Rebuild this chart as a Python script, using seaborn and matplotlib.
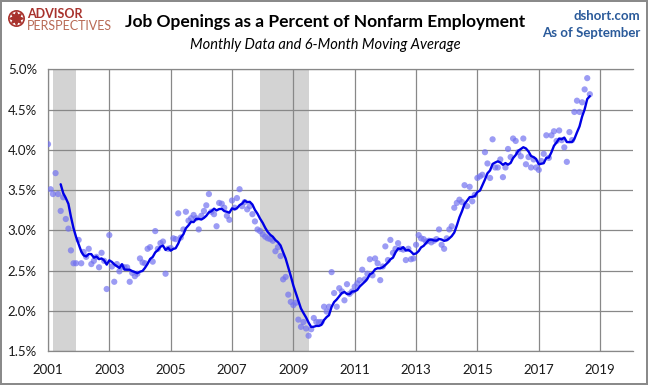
import pandas as pd
import numpy as np
import matplotlib.pyplot as plt
from matplotlib.lines import Line2D
import seaborn as sns

# job openings as % of nonfarm employment, monthly from Jan 2001 to Sep 2018
openings_pct = [
    4.07, 3.51, 3.45, 3.71, 3.45, 3.24, 3.41, 3.14, 3.02, 2.75, 2.59, 2.59,  # 2001
    2.88, 2.59, 2.73, 2.67, 2.77, 2.58, 2.62, 2.67, 2.54, 2.72, 2.62, 2.27,  # 2002
    2.94, 2.55, 2.36, 2.58, 2.49, 2.55, 2.54, 2.54, 2.36, 2.47, 2.43, 2.46,  # 2003
    2.65, 2.60, 2.59, 2.77, 2.79, 2.61, 2.99, 2.77, 2.84, 2.86, 2.46, 2.77,  # 2004
    2.78, 2.90, 2.89, 3.21, 2.91, 3.01, 3.23, 3.12, 3.15, 3.19, 3.15, 3.01,  # 2005
    3.18, 3.24, 3.31, 3.45, 3.23, 3.20, 3.05, 3.34, 3.33, 3.28, 3.18, 3.13,  # 2006
    3.37, 3.28, 3.40, 3.51, 3.30, 3.35, 3.26, 3.30, 3.20, 3.11, 3.01, 2.99,  # 2007
    2.95, 2.92, 2.90, 2.89, 2.87, 2.74, 2.79, 2.68, 2.39, 2.42, 2.20, 2.11,  # 2008
    2.07, 2.10, 1.89, 1.80, 1.86, 1.78, 1.69, 1.77, 1.91, 1.86, 1.86, 1.86,  # 2009
    2.05, 1.99, 2.05, 2.48, 2.22, 2.05, 2.28, 2.24, 2.13, 2.33, 2.21, 2.24,  # 2010
    2.30, 2.34, 2.38, 2.51, 2.39, 2.46, 2.64, 2.44, 2.65, 2.59, 2.38, 2.55,  # 2011
    2.80, 2.63, 2.88, 2.72, 2.77, 2.84, 2.77, 2.76, 2.63, 2.77, 2.64, 2.65,  # 2012
    2.82, 2.94, 2.90, 2.89, 2.86, 2.87, 2.85, 2.87, 2.89, 3.01, 2.82, 2.77,  # 2013
    2.90, 3.01, 3.05, 3.28, 3.34, 3.38, 3.35, 3.56, 3.30, 3.54, 3.36, 3.44,  # 2014
    3.65, 3.67, 3.69, 3.97, 3.83, 3.65, 4.13, 3.78, 3.78, 3.88, 3.66, 3.78,  # 2015
    4.01, 3.91, 4.14, 4.11, 3.97, 3.92, 4.14, 3.82, 3.91, 3.78, 3.88, 3.78,  # 2016
    3.75, 3.86, 3.95, 4.18, 3.90, 4.18, 4.23, 4.11, 4.24, 4.12, 4.03, 3.85,  # 2017
    4.22, 4.12, 4.47, 4.61, 4.47, 4.59, 4.75, 4.89, 4.69,                    # 2018
]
first_month = '2001-01-01'

recession_starts = ['2001-03-01', '2007-12-01']
recession_ends = ['2001-11-30', '2009-06-30']

tick_years = [2001, 2003, 2005, 2007, 2009, 2011, 2013, 2015, 2017, 2019]
ytick_vals = [1.5, 2.0, 2.5, 3.0, 3.5, 4.0, 4.5, 5.0]

df = pd.DataFrame({
    'date': pd.date_range(first_month, periods=len(openings_pct), freq='MS'),
    'pct': openings_pct,
})
df['ma6'] = df['pct'].rolling(6).mean()

sns.set_style('white')
plt.rcParams['font.family'] = ['Lato', 'DejaVu Sans']

W, H = 648, 385
fig = plt.figure(figsize=(W / 100, H / 100), dpi=100)
fig.patch.set_edgecolor('#8a8a8a')
fig.patch.set_linewidth(1.5)

ax = fig.add_axes([48 / W, 1 - 351 / H, (633 - 48) / W, (351 - 69.3) / H])

# recession bars
for s, e in zip(recession_starts, recession_ends):
    ax.axvspan(pd.Timestamp(s), pd.Timestamp(e), color='#d3d3d3', lw=0, zorder=0)

sns.scatterplot(data=df, x='date', y='pct', ax=ax, s=20, color='#7272f0',
                alpha=0.7, edgecolor='none', zorder=3)
sns.lineplot(data=df, x='date', y='ma6', ax=ax, color='#0000e6', lw=1.7, zorder=4)

ax.set_xlim(pd.Timestamp('2001-01-01'), pd.Timestamp('2020-01-28'))
ax.set_ylim(1.5, 5.0)
ax.set_xticks([pd.Timestamp(f'{y}-01-01') for y in tick_years])
ax.set_xticklabels([str(y) for y in tick_years])
ax.set_yticks(ytick_vals)
ax.set_yticklabels([f'{v:.1f}%' for v in ytick_vals])
ax.set_xlabel('')
ax.set_ylabel('')

ax.grid(True, color='#888888', lw=0.9)
ax.set_axisbelow(True)
ax.tick_params(axis='both', length=4, width=0.9, color='#888888',
               labelsize=9.5, labelcolor='#1a1a1a')
ax.tick_params(axis='y', pad=4)
ax.tick_params(axis='x', pad=5)
for side in ['left', 'bottom', 'top']:
    ax.spines[side].set_color('#888888')
    ax.spines[side].set_linewidth(0.9)
ax.spines['right'].set_visible(False)

# header
fig.text(325 / W, 1 - 22 / H, 'Job Openings as a Percent of Nonfarm Employment',
         ha='center', va='center', fontsize=12.5, fontweight='bold', color='black')
fig.text(325 / W, 1 - 45 / H, 'Monthly Data and 6-Month Moving Average',
         ha='center', va='center', fontsize=10.5, style='italic', color='black')
fig.text(640 / W, 1 - 16 / H, 'dshort.com', ha='right', va='center',
         fontsize=9.5, fontweight='bold', color='#2a5a9a')
fig.text(640 / W, 1 - 33 / H, 'As of September', ha='right', va='center',
         fontsize=9.5, fontweight='bold', color='#2a5a9a')

# logo
fig.add_artist(Line2D([16 / W], [1 - 18 / H], marker='o', markersize=11, mfc='none',
                      mec='#a8322d', mew=1.2, transform=fig.transFigure))
fig.add_artist(Line2D([16 / W], [1 - 18 / H], marker=(8, 1, 0), markersize=10,
                      color='#a8322d', transform=fig.transFigure))
fig.text(27 / W, 1 - 14 / H, 'ADVISOR', ha='left', va='center',
         fontsize=9, fontweight='bold', color='#a8322d')
fig.text(27 / W, 1 - 26 / H, 'PERSPECTIVES', ha='left', va='center',
         fontsize=9, color='#b86a55')

fig.savefig('out.png', dpi=100)
